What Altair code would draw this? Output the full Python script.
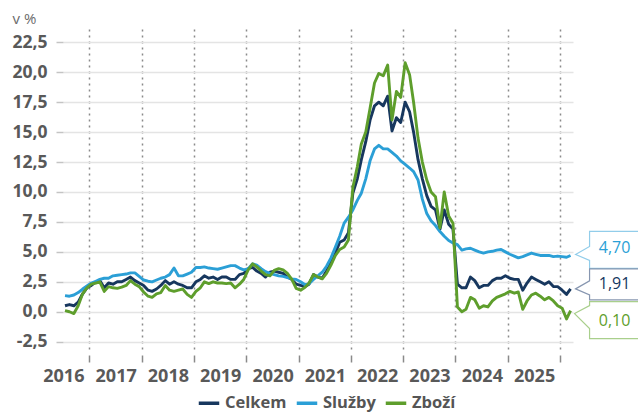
import altair as alt
import pandas as pd

# ---------------- data ----------------
months = pd.date_range("2016-07-01", "2026-03-01", freq="MS") + pd.Timedelta(days=14)
dates = [d.strftime("%Y-%m-%d") for d in months]

celkem = [
    0.5, 0.6, 0.5, 0.8, 1.5, 2.0,
    2.2, 2.5, 2.6, 2.0, 2.4, 2.3, 2.5, 2.5, 2.7, 2.9, 2.6, 2.4,
    2.2, 1.8, 1.7, 1.9, 2.2, 2.6, 2.3, 2.5, 2.3, 2.2, 2.0, 2.0,
    2.5, 2.7, 3.0, 2.8, 2.9, 2.7, 2.9, 2.9, 2.7, 2.7, 3.1, 3.2,
    3.6, 3.7, 3.4, 3.2, 2.9, 3.3, 3.4, 3.3, 3.2, 2.9, 2.7, 2.3,
    2.2, 2.1, 2.3, 3.1, 2.9, 2.8, 3.4, 4.1, 4.9, 5.8, 6.0, 6.6,
    9.9, 11.1, 12.7, 14.2, 16.0, 17.2, 17.5, 17.2, 18.0, 15.1, 16.2, 15.8,
    17.5, 16.7, 15.0, 12.7, 11.1, 9.7, 8.8, 8.5, 6.9, 8.5, 7.3, 6.9,
    2.3, 2.0, 2.0, 2.9, 2.6, 2.0, 2.2, 2.2, 2.6, 2.8, 2.8, 3.0,
    2.8, 2.7, 2.7, 1.8, 2.4, 2.9, 2.7, 2.5, 2.3, 2.5, 2.1, 2.1,
    1.8, 1.45, 1.91,
]
sluzby = [
    1.35, 1.3, 1.4, 1.6, 1.9, 2.15,
    2.4, 2.55, 2.7, 2.8, 2.8, 3.0, 3.05, 3.1, 3.15, 3.25, 3.25, 2.95,
    2.65, 2.55, 2.5, 2.65, 2.8, 2.9, 3.1, 3.65, 3.0, 3.0, 3.15, 3.3,
    3.7, 3.7, 3.75, 3.65, 3.6, 3.55, 3.65, 3.75, 3.85, 3.85, 3.65, 3.5,
    3.6, 4.0, 3.9, 3.6, 3.35, 3.2, 3.1, 3.0, 2.95, 2.85, 2.75, 2.7,
    2.5, 2.25, 2.35, 2.7, 3.0, 3.3, 3.8, 4.5, 5.4, 6.3, 7.4, 7.9,
    8.5, 9.3, 9.9, 11.1, 12.6, 13.6, 13.9, 13.6, 13.6, 13.3, 13.0, 12.6,
    12.3, 12.0, 11.7, 11.0, 9.4, 8.2, 7.6, 7.2, 6.7, 6.3, 5.95, 5.75,
    5.6, 5.15, 5.25, 5.3, 5.15, 5.0, 4.9, 5.0, 5.05, 5.15, 5.2, 5.0,
    4.8, 4.65, 4.5, 4.6, 4.75, 4.9, 4.8, 4.7, 4.7, 4.7, 4.6, 4.65,
    4.6, 4.55, 4.70,
]
zbozi = [
    0.1, 0.0, -0.15, 0.5, 1.5, 2.0,
    2.3, 2.4, 2.5, 1.7, 2.1, 2.0, 1.95, 2.05, 2.2, 2.6, 2.3, 2.1,
    1.65, 1.3, 1.2, 1.5, 1.6, 2.2, 1.8, 1.7, 1.8, 1.9, 1.45, 1.2,
    1.7, 2.0, 2.5, 2.35, 2.5, 2.4, 2.4, 2.35, 2.4, 2.0, 2.3, 2.7,
    3.5, 4.0, 3.75, 3.4, 3.1, 3.0, 3.45, 3.6, 3.5, 3.2, 2.7, 1.95,
    1.8, 2.05, 2.4, 3.1, 2.9, 2.75, 3.2, 3.9, 4.7, 5.2, 5.4, 6.0,
    10.4, 12.1, 14.0, 15.0, 17.0, 19.1, 19.9, 19.7, 20.6, 16.0, 18.4, 17.9,
    20.8, 19.8, 17.5, 14.5, 12.5, 11.0, 10.0, 9.6, 7.0, 10.0, 8.0, 7.4,
    0.4, 0.0, 0.2, 1.2, 1.0, 0.3, 0.5, 0.4, 0.9, 1.2, 1.35, 1.5,
    1.7, 1.55, 1.65, 0.2, 0.9, 1.4, 1.55, 1.3, 1.0, 1.2, 0.9, 0.5,
    0.3, -0.6, 0.10,
]

series_names = ["Celkem", "Služby", "Zboží"]
series_values = [celkem, sluzby, zbozi]
line_colors = ["#17375e", "#2b9fd6", "#5e9e2c"]
box_colors = ["#8796b0", "#92cdea", "#a9cf8c"]

y_ticks = [-2.5, 0.0, 2.5, 5.0, 7.5, 10.0, 12.5, 15.0, 17.5, 20.0, 22.5]
year_ticks = list(range(2017, 2027))

rows = []
for name, vals in zip(series_names, series_values):
    assert len(vals) == len(dates), (name, len(vals))
    for d, v in zip(dates, vals):
        rows.append({"date": d, "value": v, "series": name})
df = pd.DataFrame(rows)

ends = pd.DataFrame({
    "date": [dates[-1]] * 3,
    "value": [v[-1] for v in series_values],
    "series": series_names,
    "label": [f"{v[-1]:.2f}".replace(".", ",") for v in series_values],
})

# ---------------- encodings ----------------
FONT = "Open Sans"
x_scale = alt.Scale(type="utc", domain=[alt.DateTime(year=2016, month=7, date=1, utc=True),
                                        alt.DateTime(year=2026, month=4, date=1, utc=True)])
y_scale = alt.Scale(domain=[-3.36, 23.61], nice=False, zero=False)

x_axis = alt.Axis(
    values=[alt.DateTime(year=y, month=1, date=1, utc=True) for y in year_ticks],
    tickCount=30,
    labelExpr="'' + (utcyear(datum.value) - 1)",
    labelOffset=-26, labelFlush=False, labelOverlap=False,
    grid=True, gridDash=[2, 4], gridColor="#8a8a8a", gridWidth=1.5,
    ticks=True, tickSize=7, tickColor="#8a8a8a", tickWidth=1.5,
    domain=False, offset=3, labelPadding=5,
    labelFont=FONT, labelFontSize=18, labelFontWeight="bold", labelColor="#595959",
    title=None,
)
y_axis = alt.Axis(
    values=y_ticks,
    tickCount=30,
    labelExpr="replace(replace(format(datum.value, '.1f'), '.', ','), '\u2212', '-')",
    labelOverlap=False, labelFlush=False,
    grid=True, gridColor="#e4e4e4", gridWidth=1.5,
    ticks=True, tickSize=7, tickColor="#c4c4c4", tickWidth=1.5,
    domain=False, labelPadding=9,
    labelFont=FONT, labelFontSize=17.5, labelFontWeight="bold", labelColor="#595959",
    title="v %", titleAngle=0, titleX=-51, titleY=-11, titleAlign="left", titleBaseline="middle",
    titleFont=FONT, titleFontSize=15, titleFontWeight="normal", titleColor="#6b6b6b",
)

lines = alt.Chart(df).mark_line(strokeWidth=2.9, strokeJoin="round").encode(
    x=alt.X("date:T", scale=x_scale, axis=x_axis),
    y=alt.Y("value:Q", scale=y_scale, axis=y_axis),
    color=alt.Color("series:N",
                    scale=alt.Scale(domain=series_names, range=line_colors),
                    legend=alt.Legend(title=None, orient="none", legendX=134, legendY=362,
                                      direction="horizontal", symbolType="stroke",
                                      symbolSize=420, symbolStrokeWidth=3.5,
                                      labelFont=FONT, labelFontSize=16.5, labelFontWeight="bold",
                                      labelColor="#555555", columnPadding=2, labelOffset=4,
                                      padding=0)),
)

box_paths = {
    "Služby": "M5,-1 L19,-9 L19,-24 L72,-24 L72,13 L19,13 L19,5 Z",
    "Celkem": "M5,0 L19,-8 L19,-20 L72,-20 L72,11 L19,11 L19,6 Z",
    "Zboží": "M4,3 L19,-5 L19,-9 L72,-9 L72,28 L19,28 L19,18 Z",
}
text_dy = {"Služby": -7, "Celkem": -5, "Zboží": 10}

layers = [lines]
for name in ["Služby", "Celkem", "Zboží"]:
    i = series_names.index(name)
    sub = ends[ends["series"] == name]
    box = alt.Chart(sub).mark_point(
        shape=box_paths[name], size=4, filled=True, fill="white",
        stroke=box_colors[i], strokeWidth=1.2, opacity=1,
    ).encode(x=alt.X("date:T", scale=x_scale), y=alt.Y("value:Q", scale=y_scale))
    txt = alt.Chart(sub).mark_text(
        dx=44, dy=text_dy[name], fontSize=16, font=FONT, color=line_colors[i],
        align="center", baseline="middle",
    ).encode(x=alt.X("date:T", scale=x_scale), y=alt.Y("value:Q", scale=y_scale), text="label:N")
    layers += [box, txt]

chart = alt.layer(*layers).properties(
    width=510, height=323,
    padding={"left": 63, "top": 29, "right": 65, "bottom": 62},
    autosize=alt.AutoSizeParams(type="none"),
    background="white",
).configure_view(stroke=None)

chart.save("out.html", embed_options={"renderer": "svg", "actions": False})
